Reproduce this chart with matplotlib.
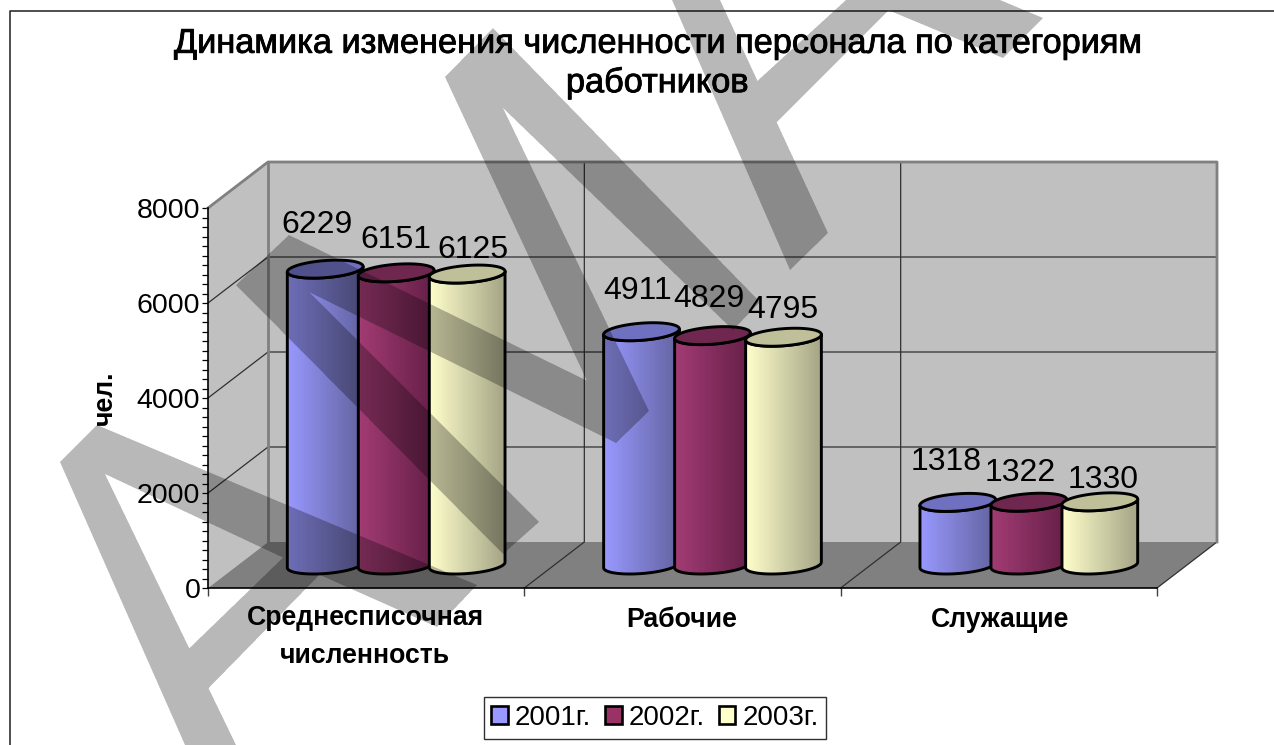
import numpy as np
import matplotlib
matplotlib.use("Agg")
import matplotlib.pyplot as plt
import matplotlib.patheffects as pe
from matplotlib.colors import LinearSegmentedColormap
from matplotlib.patches import Patch, Polygon
from matplotlib.path import Path

plt.rcParams['font.family'] = ['Liberation Sans', 'DejaVu Sans']

# data
categories = ["Среднесписочная\nчисленность", "Рабочие", "Служащие"]
years = ["2001г.", "2002г.", "2003г."]
v2001 = [6229, 4911, 1318]
v2002 = [6151, 4829, 1322]
v2003 = [6125, 4795, 1330]
series = [v2001, v2002, v2003]
title = "Динамика изменения численности персонала по категориям\nработников"

# colours: left of cylinder, right of cylinder, cap, legend
grad_left = ["#9999FF", "#A33C74", "#FFFFCC"]
grad_right = ["#62629F", "#641F47", "#A4A486"]
cap_col = ["#7070C0", "#70274F", "#BFBF99"]
leg_col = ["#9999FF", "#993366", "#FFFFCC"]

# label offsets in pixels from the top of each cylinder
lab_dx = [[-8, 0, 6], [-4, -4, -1], [-12, -9, 3]]
lab_dy = [[44, 33, 24], [41, 37, 27], [40, 29, 22]]

W, H = 1274, 745
fig = plt.figure(figsize=(W / 100, H / 100), dpi=100)
ax = fig.add_axes([208 / W, (H - 588) / H, 949 / W, 380 / H])

# 3d look: back wall offset in data units
dep_x = 60 / 949 * 3
dep_y = 46 / 380 * 8000
wall = "#C0C0C0"
edge = "#808080"
grid = "#303030"

ax.add_patch(Polygon([(0, 0), (dep_x, dep_y), (dep_x, 8000 + dep_y), (0, 8000)],
                     fc=wall, ec="none", zorder=1, clip_on=False))
ax.add_patch(Polygon([(dep_x, dep_y), (3 + dep_x, dep_y), (3 + dep_x, 8000 + dep_y), (dep_x, 8000 + dep_y)],
                     fc=wall, ec="none", zorder=1, clip_on=False))
ax.add_patch(Polygon([(0, 0), (3, 0), (3 + dep_x, dep_y), (dep_x, dep_y)],
                     fc=edge, ec="none", zorder=1, clip_on=False))

for y in [2000, 4000, 6000]:
    ax.plot([0, dep_x, 3 + dep_x], [y, y + dep_y, y + dep_y], color=grid, lw=0.9, zorder=2, clip_on=False)
for x in [1, 2]:
    ax.plot([x, x + dep_x, x + dep_x], [0, dep_y, 8000 + dep_y], color=grid, lw=0.9, zorder=2, clip_on=False)
ax.plot([3, 3 + dep_x], [0, dep_y], color=grid, lw=0.9, zorder=2, clip_on=False)
ax.plot([0, dep_x, 3 + dep_x, 3 + dep_x], [8000, 8000 + dep_y, 8000 + dep_y, dep_y],
        color=edge, lw=2.0, zorder=2, clip_on=False)
ax.plot([dep_x, dep_x], [dep_y, 8000 + dep_y], color=edge, lw=2.0, zorder=2, clip_on=False)

# cylinders
bar_step = 71 / 949 * 3
half_w = 36 / 949 * 3
ell_x = 11.7 / 949 * 3
ell_y = 9 / 380 * 8000
t_sil = np.arctan2(11.7, 36)


def ellipse(cx, cy, t):
    return cx + half_w * np.cos(t) + ell_x * np.sin(t), cy + ell_y * np.sin(t)


z = 5
for i in range(len(categories)):
    for j in range(len(series)):
        val = series[j][i]
        cx = i + 0.5 + (j - 1) * bar_step + dep_x / 2
        base = dep_y / 2
        top = base + val
        arc = np.linspace(t_sil - np.pi, t_sil, 60)  # front side, left to right
        xb, yb = ellipse(cx, base, arc)
        xt, yt = ellipse(cx, top, arc[::-1])
        body = Polygon(np.column_stack([np.r_[xb, xt], np.r_[yb, yt]]), fc="none", ec="black",
                       lw=2.1, zorder=z + 1, clip_on=False, joinstyle="round")
        ax.add_patch(body)
        cmap = LinearSegmentedColormap.from_list("c", [grad_left[j], grad_right[j]])
        img = ax.imshow(np.linspace(0, 1, 256).reshape(1, -1), cmap=cmap, aspect="auto", zorder=z,
                        extent=(xb.min(), xb.max(), base - ell_y, top + ell_y), interpolation="bilinear")
        img.set_clip_path(body)
        t = np.linspace(0, 2 * np.pi, 120)
        xc, yc = ellipse(cx, top, t)
        ax.add_patch(Polygon(np.column_stack([xc, yc]), fc=cap_col[j], ec="black", lw=2.1,
                             zorder=z + 2, clip_on=False))
        ax.annotate(str(val), (cx, top), xytext=(lab_dx[i][j], lab_dy[i][j]), textcoords="offset pixels",
                    ha="center", va="center", fontsize=23, zorder=60, annotation_clip=False)
        z += 3

ax.set_xlim(0, 3)
ax.set_ylim(0, 8000)
for s in ["top", "right"]:
    ax.spines[s].set_visible(False)
for s in ["left", "bottom"]:
    ax.spines[s].set_linewidth(1.2)
    ax.spines[s].set_zorder(4)
ax.patch.set_visible(False)
ax.set_yticks(np.arange(0, 8001, 2000))
ax.set_yticks(np.arange(0, 8001, 200), minor=True)
ax.tick_params(axis="y", which="both", length=4.5, width=0.9, pad=1, labelsize=20.5)
ax.set_xticks([0, 1, 2, 3])
ax.set_xticklabels([])
ax.tick_params(axis="x", length=6, width=1.0, color="#404040")

cat_dx = [-1, -1, 1]
cat_dy = [-49, -19, -19]
for i, c in enumerate(categories):
    ax.annotate(c, (i + 0.5, 0), xytext=(cat_dx[i], cat_dy[i]), textcoords="offset pixels",
                ha="center", va="top" if i else "center", fontsize=19.2, fontweight="bold",
                linespacing=1.6, annotation_clip=False)

fig.text(105 / W, 1 - 398 / H, "чел.", rotation=90, ha="center", va="center", fontsize=19.2, fontweight="bold")
tt = fig.text(657 / W, 1 - 64 / H, title, ha="center", va="center", fontsize=24.7, linespacing=1.3)
tt.set_path_effects([pe.withStroke(linewidth=0.6, foreground="black")])

handles = [Patch(fc=leg_col[k], ec="black", lw=1.9) for k in range(3)]
leg = fig.legend(handles, years, ncols=3, fontsize=20, loc="center", bbox_to_anchor=(655 / W, 1 - 718 / H),
                 frameon=True, fancybox=False, edgecolor="#303030", framealpha=1,
                 handlelength=0.6, handleheight=0.6, handletextpad=0.25, columnspacing=0.5,
                 borderpad=0.28, borderaxespad=0)
leg.get_frame().set_linewidth(1.0)

# overlay in pixels: chart border and watermark
over = fig.add_axes([0, 0, 1, 1], zorder=100)
over.set_xlim(0, W)
over.set_ylim(H, 0)
over.axis("off")
over.plot([10, 10, W], [H, 10.5, 10.5], color="#303030", lw=1.2, zorder=1)

strokes = [
    [(60, 462), (185, 745), (236, 745), (104, 472)],
    [(97, 425), (477, 585), (437, 627), (320, 575), (105, 474), (60, 462)],
    [(170, 667), (295, 546), (332, 562), (195, 702)],
    [(236, 285), (289, 235), (309, 292), (539, 522), (503, 554)],
    [(236, 285), (289, 235), (649, 411), (616, 443), (309, 292)],
    [(445, 77), (503, 108), (649, 411), (616, 443)],
    [(445, 77), (493, 28), (760, 302), (733, 330), (503, 108)],
    [(672, 0), (720, 0), (828, 233), (790, 270)],
    [(846, 0), (742, 95), (760, 139), (899, 0)],
    [(880, 0), (1000, 0), (1043, 18), (1003, 58), (888, 10)],
]
# union of the strokes as a mask, so overlaps are not darker
ss = 3
gx, gy = np.meshgrid((np.arange(W * ss) + 0.5) / ss, (np.arange(H * ss) + 0.5) / ss)
pts = np.column_stack([gx.ravel(), gy.ravel()])
mask = np.zeros(len(pts), bool)
for s in strokes:
    mask |= Path(s + [s[0]]).contains_points(pts)
cover = mask.reshape(H, ss, W, ss).mean(axis=(1, 3))
rgba = np.zeros((H, W, 4))
rgba[..., 3] = 0.28 * cover
over.imshow(rgba, extent=(0, W, H, 0), aspect="auto", interpolation="nearest", zorder=5)
over.set_xlim(0, W)
over.set_ylim(H, 0)

fig.savefig("out.png", dpi=100)
